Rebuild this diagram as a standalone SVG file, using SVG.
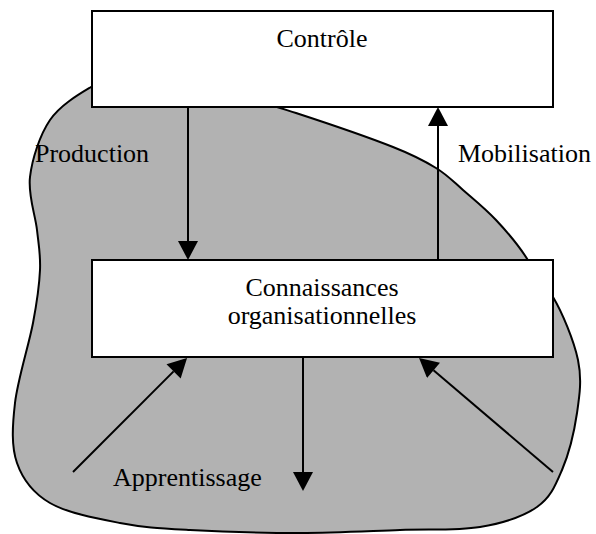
<svg xmlns="http://www.w3.org/2000/svg" width="596" height="534" viewBox="0 0 596 534">
  <style>
    .blob { fill: #b2b2b2; stroke: #000; stroke-width: 2; }
    .box { fill: #fff; stroke: #000; stroke-width: 2; }
    .edge { fill: none; stroke: #000; stroke-width: 2; marker-end: url(#ah); }
    text { font-family: "Liberation Serif", "Times New Roman", serif; font-size: 26px; fill: #000; }
    .mid { text-anchor: middle; }
  </style>
  <defs>
    <marker id="ah" markerUnits="userSpaceOnUse" markerWidth="20" markerHeight="20" viewBox="0 0 19 20" refX="0" refY="10" orient="auto">
      <path d="M0,0 L19,10 L0,20 Z" fill="#000"/>
    </marker>
  </defs>

  <!-- shaded organisational area behind the boxes -->
  <g id="area">
    <path class="blob" d="M91,87
      C79.3,94 60.2,105 50,120
      C39.8,135 32.2,158.7 30,177
      C27.8,195.3 35.3,214.5 37,230
      C38.7,245.5 40.7,254.5 40,270
      C39.3,285.5 37.2,300.8 33,323
      C28.8,345.2 17.7,379.7 15,403
      C12.3,426.3 11.2,446.3 17,463
      C22.8,479.7 32.8,493 50,503
      C67.2,513 96.7,518.5 120,523
      C143.3,527.5 160,528.3 190,530
      C220,531.7 265,533 300,533
      C335,533 370,531 400,530
      C430,529 457.2,530.8 480,527
      C502.8,523.2 523.3,516.5 537,507
      C550.7,497.5 555.3,485.7 562,470
      C568.7,454.3 574.3,431.3 577,413
      C579.7,394.7 582,379.3 578,360
      C574,340.7 562,312 553,297
      L529,262
      C522,250 507,231.7 496,220
      C485,208.3 473,198.7 463,190
      C453,181.3 447.7,175.2 436,168
      C424.3,160.8 416.3,156.2 393,147
      C369.7,137.8 316.5,119.7 296,113
      C286,110 275,106 262,103
      L150,95 Z"/>
  </g>

  <g id="controle">
    <rect class="box" x="92" y="11" width="461" height="96"/>
    <text class="mid" x="322" y="47">Contrôle</text>
  </g>

  <g id="connaissances">
    <rect class="box" x="92" y="260" width="461" height="97"/>
    <text class="mid" x="322" y="296">Connaissances</text>
    <text class="mid" x="322" y="324">organisationnelles</text>
  </g>

  <g id="connectors">
    <line class="edge" x1="188" y1="107" x2="188" y2="241"/>
    <line class="edge" x1="438" y1="260" x2="438" y2="126"/>
    <line class="edge" x1="303" y1="357" x2="303" y2="472"/>
    <line class="edge" x1="73" y1="472" x2="173.6" y2="371.4"/>
    <line class="edge" x1="553" y1="472" x2="433.5" y2="370.3"/>
  </g>

  <g id="labels">
    <text x="35" y="162">Production</text>
    <text x="458" y="162">Mobilisation</text>
    <text x="113" y="486">Apprentissage</text>
  </g>
</svg>
